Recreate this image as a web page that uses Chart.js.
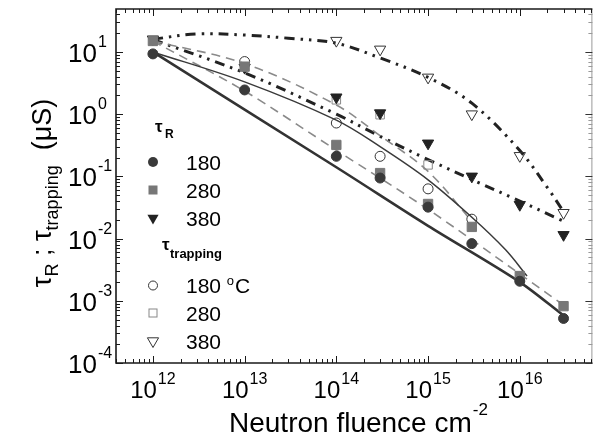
<!DOCTYPE html>
<html><head><meta charset="utf-8">
<script src="https://cdn.jsdelivr.net/npm/chart.js@4/dist/chart.umd.min.js"></script>
<style>html,body{margin:0;padding:0;background:#fff}canvas{display:block}</style>
</head><body>
<canvas id="c" width="600" height="438"></canvas>
<script>
// ---- data ----
const fluence = [1e12, 1e13, 1e14, 3e14, 1e15, 3e15, 1e16, 3e16];
const tauR180 = [9.3, 2.45, 0.21, 0.094, 0.032, 0.0083, 0.00206, 0.00052];
const tauR280 = [15, 5.8, 0.32, 0.113, 0.036, 0.0154, 0.0025, 0.00082];
const tauR380 = [16, 5.6, 1.87, 1.04, 0.34, 0.10, 0.035, 0.0115];
const trap180 = [null, 7.0, 0.72, 0.21, 0.063, 0.0205, null, null];
const trap280 = [null, null, 1.7, 0.98, 0.153, null, null, null];
const trap380 = [null, null, 15.2, 11.0, 3.9, 1.0, 0.214, 0.026];

// fitted curves (read at several fluences)
const fitThickX = [1e12, 1e14, 1e15, 1e16, 3e16];
const fitThickY = [10, 0.14, 0.016, 0.002, 0.00058];
const fitThinX = [1e12, 1e13, 1e14, 3e14, 1e15, 3e15, 7e15, 1.2e16];
const fitThinY = [10, 3.3, 0.8, 0.3, 0.088, 0.022, 0.0066, 0.0025];
const fitDashUpX = [1e12, 1e13, 1e14, 3e14, 1e15, 3e15];
const fitDashUpY = [15, 6.5, 1.4, 0.45, 0.12, 0.019];
const fitDashLoX = [1e12, 1e13, 1e14, 1e15, 1e16, 3e16];
const fitDashLoY = [15, 2.35, 0.263, 0.0295, 0.0027, 0.00085];
const fitDdMidX = [1e12, 1e13, 1e14, 3e14, 1e15, 3e15, 1e16, 3e16];
const fitDdMidY = [15.8, 4.6, 1.0, 0.44, 0.186, 0.089, 0.040, 0.019];
const fitDdTopX = [1e12, 3e12, 1e13, 3e13, 1e14, 3e14, 1e15, 3e15, 1e16, 2e16, 3e16];
const fitDdTopY = [16, 19.5, 18.7, 16.6, 13.8, 8.0, 3.9, 1.5, 0.26, 0.066, 0.027];

const xTickVals = [1e12, 1e13, 1e14, 1e15, 1e16];
const xTickExp = ['12', '13', '14', '15', '16'];
const yTickVals = [10, 1, 0.1, 0.01, 0.001, 0.0001];
const yTickExp = ['1', '0', '-1', '-2', '-3', '-4'];
const legendR = ['180', '280', '380'];
const legendT = ['180', '280', '380'];

const FONT = '"Liberation Sans", Arial, Helvetica, sans-serif';
const pts = (xs, ys) => xs.map((x, i) => ({x: x, y: ys[i]})).filter(p => p.y !== null);

function marker(label, ys, style, fill, stroke, r, rot) {
  return {label, data: pts(fluence, ys), showLine: false, pointStyle: style,
    pointRadius: r, pointHoverRadius: r, pointRotation: rot || 0,
    pointBackgroundColor: fill, pointBorderColor: stroke, pointBorderWidth: 1};
}
function curve(label, xs, ys, color, width, dash, tension) {
  return {label, data: pts(xs, ys), showLine: true, pointRadius: 0, pointHoverRadius: 0,
    borderColor: color, borderWidth: width, borderDash: dash, tension: tension, fill: false};
}

const datasets = [
  marker('τR 180', tauR180, 'circle', '#3a3a3a', '#3a3a3a', 5),
  marker('τR 280', tauR280, 'rect', '#777777', '#777777', 6.6),
  marker('τR 380', tauR380, 'triangle', '#222222', '#222222', 6.5, 180),
  marker('τtrap 180', trap180, 'circle', 'rgba(0,0,0,0)', '#333333', 5),
  marker('τtrap 280', trap280, 'rect', 'rgba(0,0,0,0)', '#888888', 6),
  marker('τtrap 380', trap380, 'triangle', 'rgba(0,0,0,0)', '#333333', 6.5, 180),
  curve('fit thick', fitThickX, fitThickY, '#333333', 2.6, [], 0.3),
  curve('fit thin', fitThinX, fitThinY, '#3a3a3a', 1.5, [], 0.35),
  curve('fit dash up', fitDashUpX, fitDashUpY, '#8a8a8a', 1.6, [9, 6], 0.35),
  curve('fit dash lo', fitDashLoX, fitDashLoY, '#8a8a8a', 1.6, [9, 6], 0.3),
  curve('fit dd mid', fitDdMidX, fitDdMidY, '#222222', 3, [10, 6, 2.5, 6, 2.5, 6], 0.35),
  curve('fit dd top', fitDdTopX, fitDdTopY, '#222222', 3, [10, 6, 2.5, 6, 2.5, 6], 0.35)
];

function drawPow(ctx, base, exp, x, y, baseFont, expFont, expRise, align) {
  ctx.font = baseFont; const wb = ctx.measureText(base).width;
  ctx.font = expFont; const we = ctx.measureText(exp).width;
  let x0 = x;
  if (align === 'center') x0 = x - (wb + 1 + we) / 2;
  ctx.textAlign = 'left'; ctx.textBaseline = 'alphabetic';
  ctx.font = baseFont; ctx.fillText(base, x0, y);
  ctx.font = expFont; ctx.fillText(exp, x0 + wb + 1, y - expRise);
}

function legendMarker(ctx, type, x, y) {
  ctx.save(); ctx.lineWidth = 1;
  if (type === 'fc') { ctx.fillStyle = '#3a3a3a'; ctx.beginPath(); ctx.arc(x, y, 5, 0, 2 * Math.PI); ctx.fill(); }
  if (type === 'fs') { ctx.fillStyle = '#777'; ctx.fillRect(x - 4.5, y - 4.5, 9, 9); }
  if (type === 'ft' || type === 'ot') {
    ctx.beginPath(); ctx.moveTo(x - 5.6, y - 3.2); ctx.lineTo(x + 5.6, y - 3.2); ctx.lineTo(x, y + 6.5); ctx.closePath();
    if (type === 'ft') { ctx.fillStyle = '#222'; ctx.fill(); } else { ctx.strokeStyle = '#333'; ctx.stroke(); }
  }
  if (type === 'oc') { ctx.strokeStyle = '#333'; ctx.beginPath(); ctx.arc(x, y, 4.5, 0, 2 * Math.PI); ctx.stroke(); }
  if (type === 'os') { ctx.strokeStyle = '#888'; ctx.strokeRect(x - 4, y - 4, 8, 8); }
  ctx.restore();
}

const decor = {
  id: 'decor',
  afterDraw(chart) {
    const ctx = chart.ctx, a = chart.chartArea, xs = chart.scales.x, ys = chart.scales.y;
    ctx.save();
    // frame
    ctx.strokeStyle = '#999'; ctx.lineWidth = 1;
    ctx.beginPath(); ctx.moveTo(a.right - 0.5, a.top); ctx.lineTo(a.right - 0.5, a.bottom); ctx.stroke();
    ctx.strokeStyle = '#1a1a1a'; ctx.lineWidth = 1.6;
    ctx.beginPath();
    ctx.moveTo(a.right, a.top); ctx.lineTo(a.left, a.top); ctx.lineTo(a.left, a.bottom); ctx.lineTo(a.right, a.bottom);
    ctx.stroke();
    // ticks
    ctx.lineWidth = 1; ctx.strokeStyle = '#1a1a1a';
    for (let d = 11; d <= 16; d++) for (let m = 1; m <= 9; m++) {
      const v = m * Math.pow(10, d); if (v < xs.min || v > xs.max) continue;
      const px = Math.round(xs.getPixelForValue(v)) + 0.5, L = m === 1 ? 7 : 4;
      ctx.beginPath(); ctx.moveTo(px, a.bottom); ctx.lineTo(px, a.bottom - L);
      ctx.moveTo(px, a.top); ctx.lineTo(px, a.top + L); ctx.stroke();
    }
    for (let d = -4; d <= 1; d++) for (let m = 1; m <= 9; m++) {
      const v = m * Math.pow(10, d); if (v < ys.min || v > ys.max) continue;
      const py = Math.round(ys.getPixelForValue(v)) + 0.5, L = m === 1 ? 7 : 4;
      ctx.strokeStyle = '#1a1a1a';
      ctx.beginPath(); ctx.moveTo(a.left, py); ctx.lineTo(a.left + L, py); ctx.stroke();
      ctx.strokeStyle = m === 1 ? '#333' : '#999';
      ctx.beginPath(); ctx.moveTo(a.right, py); ctx.lineTo(a.right - L, py); ctx.stroke();
    }
    // tick labels
    ctx.fillStyle = '#000';
    xTickVals.forEach((v, i) => drawPow(ctx, '10', xTickExp[i], xs.getPixelForValue(v), 398,
      '24px ' + FONT, '16px ' + FONT, 14, 'center'));
    yTickVals.forEach((v, i) => drawPow(ctx, '10', yTickExp[i], 68, ys.getPixelForValue(v) + 10,
      '26px ' + FONT, '16px ' + FONT, 15, 'left'));
    // x title
    ctx.textAlign = 'left'; ctx.textBaseline = 'alphabetic';
    ctx.font = '28px ' + FONT; ctx.fillText('Neutron fluence cm', 229, 432);
    const wt = ctx.measureText('Neutron fluence cm').width;
    ctx.font = '17px ' + FONT; ctx.fillText('-2', 229 + wt + 1, 415);
    // y title (rotated)
    const segs = [['τ', '27px ' + FONT, 0], ['R', '18px ' + FONT, 7], [' ; ', '27px ' + FONT, 0],
                  ['τ', '27px ' + FONT, 0], ['trapping', '18px ' + FONT, 7], ['  (μS)', '27px ' + FONT, 0]];
    let total = 0; segs.forEach(s => { ctx.font = s[1]; total += ctx.measureText(s[0]).width; });
    ctx.translate(51, 193 + total / 2); ctx.rotate(-Math.PI / 2);
    let cx = 0; segs.forEach(s => { ctx.font = s[1]; ctx.fillText(s[0], cx, s[2]); cx += ctx.measureText(s[0]).width; });
    ctx.setTransform(1, 0, 0, 1, 0, 0);
    // legend
    ctx.fillStyle = '#000';
    ctx.font = 'bold 17px ' + FONT; ctx.fillText('τ', 155, 132);
    ctx.font = 'bold 12px ' + FONT; ctx.fillText('R', 165, 138);
    const rowsR = [162, 190, 218], typesR = ['fc', 'fs', 'ft'];
    rowsR.forEach((y, i) => { legendMarker(ctx, typesR[i], 153, y); ctx.fillStyle = '#000';
      ctx.font = '21px ' + FONT; ctx.fillText(legendR[i], 186, y + 7.5); });
    ctx.font = 'bold 17px ' + FONT; ctx.fillText('τ', 162, 250);
    ctx.font = 'bold 13px ' + FONT; ctx.fillText('trapping', 170, 258);
    const rowsT = [285.5, 313, 341], typesT = ['oc', 'os', 'ot'];
    rowsT.forEach((y, i) => { legendMarker(ctx, typesT[i], 153, y); ctx.fillStyle = '#000';
      ctx.font = '21px ' + FONT; ctx.fillText(legendT[i], 186, y + 7.5); });
    const w180 = (ctx.font = '21px ' + FONT, ctx.measureText('180 ').width);
    ctx.font = '13px ' + FONT; ctx.fillText('o', 186 + w180, 285.5 - 1);
    const wo = ctx.measureText('o').width;
    ctx.font = '21px ' + FONT; ctx.fillText('C', 186 + w180 + wo + 1, 285.5 + 7.5);
    ctx.restore();
  }
};

new Chart(document.getElementById('c'), {
  type: 'scatter',
  data: {datasets},
  options: {
    responsive: false, animation: false, devicePixelRatio: 1,
    layout: {padding: {left: 116, right: 2, top: 9, bottom: 75}},
    plugins: {legend: {display: false}, tooltip: {enabled: false}},
    scales: {
      x: {type: 'logarithmic', min: 3.96e11, max: 6.19e16, display: false},
      y: {type: 'logarithmic', min: 1e-4, max: 49, display: false}
    }
  },
  plugins: [decor]
});
</script>
</body></html>
